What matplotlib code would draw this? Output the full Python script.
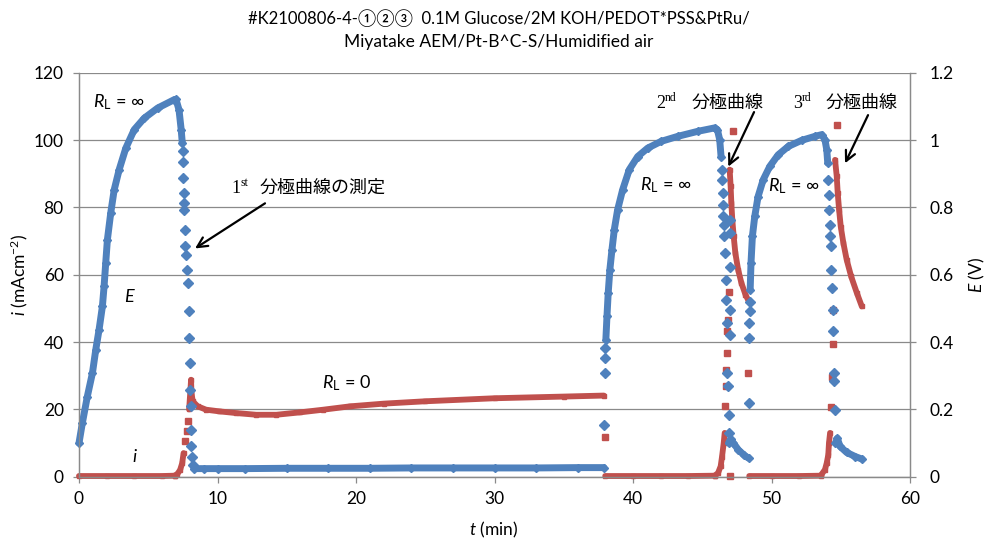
import matplotlib
matplotlib.use("Agg")
import matplotlib.pyplot as plt
from matplotlib.transforms import offset_copy

# ---------------- data ----------------
# E (V), right axis, blue diamonds
E_rest1_t = [0.00, 0.24, 0.60, 0.97, 1.21, 1.45, 1.69, 1.81, 1.93, 2.05, 2.29, 2.54, 2.90, 3.38, 3.99, 4.71, 5.68, 6.88, 7.00, 7.22, 7.38, 7.46]
E_rest1 = [0.100, 0.159, 0.238, 0.308, 0.377, 0.437, 0.506, 0.565, 0.635, 0.704, 0.783, 0.852, 0.912, 0.976, 1.031, 1.065, 1.095, 1.120, 1.121, 1.09, 1.03, 0.99]
E_drop1_t = [7.49, 7.51, 7.53, 7.55, 7.57, 7.59, 7.62, 7.66, 7.73, 7.78, 7.89, 7.93, 7.96, 8.01, 8.04, 8.06, 8.08, 8.10, 8.13, 8.25]
E_drop1 = [0.966, 0.936, 0.887, 0.843, 0.813, 0.793, 0.734, 0.684, 0.659, 0.615, 0.575, 0.491, 0.412, 0.338, 0.258, 0.209, 0.140, 0.090, 0.060, 0.035]
E_flat_t = [8.30, 9.0, 10.0, 12.0, 15.0, 18.0, 21.0, 24.0, 27.0, 30.0, 33.0, 36.0, 37.9]
E_flat = [0.024, 0.024, 0.024, 0.024, 0.025, 0.025, 0.025, 0.026, 0.026, 0.026, 0.026, 0.027, 0.027]
E_jump2_t = [37.93, 37.97, 37.99, 38.01]
E_jump2 = [0.154, 0.308, 0.353, 0.383]
E_rest2_t = [38.04, 38.12, 38.21, 38.33, 38.48, 38.65, 38.89, 39.25, 39.73, 40.34, 41.06, 42.03, 43.24, 44.69, 45.89, 46.09, 46.26, 46.36]
E_rest2 = [0.407, 0.476, 0.546, 0.615, 0.674, 0.734, 0.793, 0.852, 0.912, 0.951, 0.976, 0.996, 1.011, 1.026, 1.036, 1.031, 1.001, 0.950]
E_drop2_t = [46.40, 46.43, 46.47, 46.50, 46.53, 46.56, 46.59, 46.62, 46.68, 46.72, 46.78, 46.82, 46.86, 46.90, 46.95, 46.97, 46.98, 46.99, 47.00, 47.01]
E_drop2 = [0.912, 0.882, 0.843, 0.808, 0.773, 0.748, 0.714, 0.664, 0.585, 0.526, 0.456, 0.308, 0.268, 0.184, 0.130, 0.763, 0.723, 0.624, 0.495, 0.421]
E_short2_t = [46.90, 47.05, 47.25, 47.60, 48.05, 48.35]
E_short2 = [0.100, 0.112, 0.100, 0.080, 0.063, 0.055]
E_jump3_t = [48.36, 48.38, 48.40, 48.42, 48.44]
E_jump3 = [0.219, 0.413, 0.456, 0.491, 0.520]
E_rest3_t = [48.46, 48.52, 48.62, 48.79, 49.03, 49.40, 49.88, 50.48, 51.21, 52.17, 53.14, 53.62, 53.86, 53.99, 54.06]
E_rest3 = [0.555, 0.635, 0.714, 0.773, 0.832, 0.882, 0.922, 0.956, 0.981, 0.999, 1.011, 1.016, 1.001, 0.971, 0.932]
E_drop3_t = [54.10, 54.13, 54.17, 54.21, 54.25, 54.28, 54.32, 54.38, 54.43, 54.47, 54.50, 54.53, 54.56]
E_drop3 = [0.882, 0.838, 0.793, 0.748, 0.714, 0.684, 0.615, 0.560, 0.496, 0.432, 0.308, 0.283, 0.199]
E_short3_t = [54.62, 54.75, 54.95, 55.43, 56.04, 56.55]
E_short3 = [0.100, 0.114, 0.090, 0.072, 0.060, 0.052]

# i (mA cm-2), left axis, red squares
i_zero1_t = [0.0, 2.0, 4.0, 6.0, 6.9]
i_zero1 = [0.2, 0.2, 0.2, 0.2, 0.3]
i_rise1_t = [6.9, 7.1, 7.3, 7.45, 7.55]
i_rise1 = [0.3, 0.8, 2.0, 4.0, 7.0]
i_pol1_t = [7.68, 7.80, 7.88]
i_pol1 = [10.5, 13.5, 16.5]
i_load1_t = [7.95, 8.00, 8.05, 8.09, 8.12, 8.21, 8.57, 9.18, 10.14, 11.35, 12.80, 14.25, 15.94, 17.63, 19.57, 22.0, 25.0, 30.0, 35.0, 37.9]
i_load1 = [20.0, 23.0, 26.0, 28.8, 25.0, 22.4, 20.9, 19.9, 19.4, 18.9, 18.4, 18.4, 19.1, 19.9, 20.9, 21.7, 22.4, 23.3, 23.8, 24.1]
i_off2_t = [37.95]
i_off2 = [11.9]
i_zero2_t = [38.0, 40.0, 42.0, 44.0, 45.9]
i_zero2 = [0.2, 0.2, 0.2, 0.2, 0.3]
i_rise2_t = [45.9, 46.14, 46.33, 46.43, 46.55, 46.62]
i_rise2 = [0.3, 1.1, 3.1, 6.0, 10.0, 13.0]
i_pol2_t = [46.64, 46.68, 46.72, 46.76, 46.80, 46.85, 46.93, 47.22, 47.00, 48.31]
i_pol2 = [20.9, 26.8, 31.8, 36.7, 43.2, 46.6, 55.0, 102.6, 0.2, 30.8]
i_short2_t = [46.98, 47.05, 47.10, 47.17, 47.27, 47.39, 47.59, 47.83, 48.12, 48.36]
i_short2 = [91.2, 86.2, 81.3, 76.3, 71.4, 66.4, 61.5, 57.5, 54.1, 52.1]
i_zero3_t = [48.4, 50.0, 52.0, 53.6]
i_zero3 = [0.2, 0.2, 0.2, 0.3]
i_rise3_t = [53.6, 53.86, 53.99, 54.10, 54.15, 54.23]
i_rise3 = [0.6, 2.1, 4.1, 6.5, 10.0, 13.0]
i_pol3_t = [54.30, 54.35, 54.42, 54.47, 54.71]
i_pol3 = [20.6, 29.5, 39.5, 49.6, 104.5]
i_short3_t = [54.59, 54.71, 54.78, 54.88, 55.00, 55.19, 55.43, 55.75, 56.16, 56.52]
i_short3 = [94.1, 89.2, 84.3, 79.3, 74.3, 69.4, 64.4, 59.5, 54.6, 50.6]

x_ticks = [0, 10, 20, 30, 40, 50, 60]
i_ticks = [0, 20, 40, 60, 80, 100, 120]
E_ticks = [0, 0.2, 0.4, 0.6, 0.8, 1.0, 1.2]
E_tick_labels = ["0", "0.2", "0.4", "0.6", "0.8", "1", "1.2"]

title_lines = ["#K2100806-4-①②③  0.1M Glucose/2M KOH/PEDOT*PSS&PtRu/",
               "Miyatake AEM/Pt-B^C-S/Humidified air"]

# ---------------- style ----------------
plt.rcParams['font.family'] = ['Lato', 'Noto Sans CJK JP', 'DejaVu Sans']
plt.rcParams['mathtext.fontset'] = 'custom'
plt.rcParams['mathtext.rm'] = 'Lato'
plt.rcParams['mathtext.it'] = 'Lato:italic'
plt.rcParams['mathtext.bf'] = 'Lato:bold'

BLUE = '#4F81BD'
RED = '#C0504D'
GREY = '#8a8a8a'
W, H = 989, 547

fig = plt.figure(figsize=(W / 100, H / 100), dpi=100)
ax = fig.add_axes([79 / W, 1 - 476.7 / H, 831 / W, 404 / H])
ax2 = ax.twinx()


def dense(a, t, v, c, lw, marker, ms):
    a.plot(t, v, color=c, lw=lw, solid_capstyle='round', solid_joinstyle='round',
           marker=marker, ms=ms, mec=c, mfc=c, clip_on=False)


def sparse(a, t, v, c, marker, ms):
    a.plot(t, v, ls='none', marker=marker, ms=ms, mec=c, mfc=c, clip_on=False)


# red: current density
for t, v in [(i_zero1_t, i_zero1), (i_rise1_t, i_rise1), (i_load1_t, i_load1),
             (i_zero2_t, i_zero2), (i_rise2_t, i_rise2), (i_short2_t, i_short2),
             (i_zero3_t, i_zero3), (i_rise3_t, i_rise3), (i_short3_t, i_short3)]:
    dense(ax, t, v, RED, 4.2, 's', 3.2)
for t, v in [(i_pol1_t, i_pol1), (i_off2_t, i_off2), (i_pol2_t, i_pol2), (i_pol3_t, i_pol3)]:
    sparse(ax, t, v, RED, 's', 3.8)

# blue: voltage
for t, v in [(E_rest1_t, E_rest1), (E_flat_t, E_flat), (E_rest2_t, E_rest2),
             (E_short2_t, E_short2), (E_rest3_t, E_rest3), (E_short3_t, E_short3)]:
    dense(ax2, t, v, BLUE, 5.0, 'D', 3.6)
for t, v in [(E_drop1_t, E_drop1), (E_jump2_t, E_jump2), (E_drop2_t, E_drop2),
             (E_jump3_t, E_jump3), (E_drop3_t, E_drop3)]:
    sparse(ax2, t, v, BLUE, 'D', 4.6)

# axes
ax.set_xlim(0, 60)
ax.set_ylim(0, 120)
ax2.set_ylim(0, 1.2)
ax.set_xticks(x_ticks)
ax.set_yticks(i_ticks)
ax2.set_yticks(E_ticks)
ax2.set_yticklabels(E_tick_labels)
ax.yaxis.grid(True, color=GREY, lw=0.9)
ax.set_axisbelow(True)
for a in (ax, ax2):
    for s in a.spines.values():
        s.set_color(GREY)
        s.set_linewidth(0.9)
    a.spines['top'].set_visible(False)
    a.tick_params(colors=GREY, labelcolor='black', labelsize=12.5, length=4, width=0.9)
ax.tick_params(axis='y', pad=7)
ax.tick_params(axis='x', pad=6)
ax2.tick_params(axis='y', pad=10)

# axis labels and title
fig.text(494 / W, 1 - 530 / H, r'$t$ (min)', ha='center', va='center', fontsize=12.5)
fig.text(19 / W, 1 - 275 / H, r'$i$ (mAcm$^{\mathregular{-2}}$)', ha='center', va='center',
         rotation=90, fontsize=12.5)
fig.text(977 / W, 1 - 275 / H, r'$E$ (V)', ha='center', va='center', rotation=90, fontsize=12.5)
fig.text(499 / W, 1 - 18 / H, title_lines[0], ha='center', va='center', fontsize=12)
fig.text(499 / W, 1 - 42 / H, title_lines[1], ha='center', va='center', fontsize=12.5)

# annotations (left-axis data coordinates)
ax.text(1.0, 111.3, r'$R_{\mathregular{L}}$ = ∞', fontsize=13, va='center')
ax.text(40.5, 86.6, r'$R_{\mathregular{L}}$ = ∞', fontsize=13, va='center')
ax.text(49.75, 86.3, r'$R_{\mathregular{L}}$ = ∞', fontsize=13, va='center')
ax.text(17.55, 27.8, r'$R_{\mathregular{L}}$ = 0', fontsize=13, va='center')
ax.text(3.68, 53.4, r'$E$', fontsize=13, ha='center', va='center')
ax.text(4.04, 5.9, r'$i$', fontsize=13, ha='center', va='center')


def ordinal_label(t, i, num, suf, jp, dx_sup, dx_jp):
    tr = ax.transData
    ax.text(t, i, num, transform=tr, fontsize=13, family='Liberation Serif', va='baseline')
    ax.text(t, i, suf, transform=offset_copy(tr, fig=fig, x=dx_sup, y=7, units='dots'),
            fontsize=8.5, family='Liberation Serif', va='baseline')
    ax.text(t, i, jp, transform=offset_copy(tr, fig=fig, x=dx_jp, y=0, units='dots'),
            fontsize=13, family=['Noto Sans CJK JP'], va='baseline')


ordinal_label(11.0, 84.3, '1', 'st', '分極曲線の測定', 9, 28)
ordinal_label(41.65, 109.5, '2', 'nd', '分極曲線', 9, 36)
ordinal_label(51.55, 109.5, '3', 'rd', '分極曲線', 9, 33)

arrow = dict(arrowstyle='->', color='black', lw=1.6, mutation_scale=18, shrinkA=0, shrinkB=0)
ax.annotate('', xy=(8.38, 67.8), xytext=(13.43, 81.2), arrowprops=arrow)
ax.annotate('', xy=(46.88, 92.1), xytext=(48.74, 108.3), arrowprops=arrow)
ax.annotate('', xy=(55.31, 93.1), xytext=(56.97, 107.4), arrowprops=arrow)

fig.savefig('out.png', dpi=100)
